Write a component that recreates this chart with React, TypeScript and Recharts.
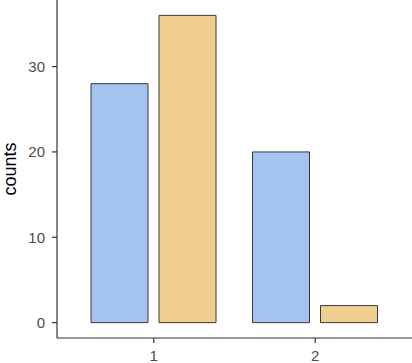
import React from "react";
import { BarChart, Bar, XAxis, YAxis } from "recharts";

const categories = ["1", "2"];
const blueCounts = [28, 20];
const orangeCounts = [36, 2];
const yTicks = [0, 10, 20, 30];

const data = categories.map((name, i) => ({
  name,
  blue: blueCounts[i],
  orange: orangeCounts[i],
}));

const font = '"Liberation Sans", Arial, sans-serif';

export default function App() {
  return (
    <div style={{ position: "absolute", left: 0, top: 0, background: "#fff" }}>
      <BarChart
        width={412}
        height={363}
        data={data}
        margin={{ top: 0, right: 0, left: 0, bottom: 0 }}
        barSize={57}
        barGap={11}
        barCategoryGap={18}
      >
        <XAxis
          dataKey="name"
          height={25}
          padding={{ left: 16, right: 16 }}
          stroke="#333"
          strokeWidth={1.2}
          tickSize={5}
          tickMargin={7}
          tick={{ fill: "#4d4d4d", fontSize: 15, fontFamily: font }}
        />
        <YAxis
          width={57}
          domain={[-1.8, 37.8]}
          ticks={yTicks}
          allowDataOverflow
          stroke="#333"
          strokeWidth={1.2}
          tickSize={5}
          tickMargin={7}
          tick={{ fill: "#4d4d4d", fontSize: 15, fontFamily: font }}
          label={{
            value: "counts",
            angle: -90,
            position: "insideLeft",
            offset: 10,
            style: { textAnchor: "middle", fill: "#000", fontSize: 18, fontFamily: font },
          }}
        />
        <Bar dataKey="blue" fill="#A5C3EF" stroke="#3a3a3a" strokeWidth={1} isAnimationActive={false} />
        <Bar dataKey="orange" fill="#F0CE8E" stroke="#3a3a3a" strokeWidth={1} isAnimationActive={false} />
      </BarChart>
    </div>
  );
}
